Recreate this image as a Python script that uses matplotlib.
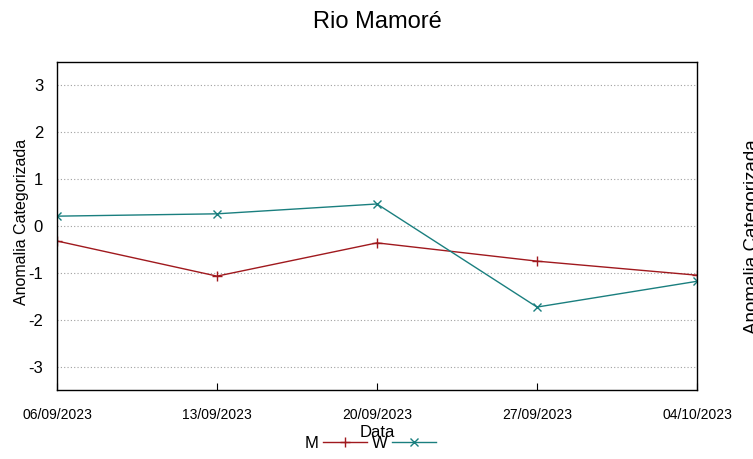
import numpy as np
import pandas as pd
import matplotlib
matplotlib.use('Agg')
import matplotlib.pyplot as plt

plt.rcParams['font.family'] = ['Liberation Sans', 'DejaVu Sans']
plt.rcParams['axes.unicode_minus'] = False

# dados
datas = ['2023-09-06', '2023-09-13', '2023-09-20', '2023-09-27', '2023-10-04']
serie_m = [-0.32, -1.07, -0.36, -0.75, -1.05]
serie_w = [0.21, 0.26, 0.47, -1.73, -1.18]
rotulos_x = ['06/09/2023', '13/09/2023', '20/09/2023', '27/09/2023', '04/10/2023']
ticks_y = [-3, -2, -1, 0, 1, 2, 3]

x = pd.to_datetime(datas)

fig = plt.figure(figsize=(7.53, 4.59), dpi=100)
ax = fig.add_axes([57 / 753, 1 - 390 / 459, 640 / 753, 328 / 459])

ax.plot(x, serie_m, color='#a0191e', lw=1.0, marker='+', ms=7, mew=1.0, label='M')
ax.plot(x, serie_w, color='#1a7f7f', lw=1.0, marker='x', ms=6, mew=1.0, label='W')

ax.set_xlim(x[0], x[-1])
ax.set_ylim(-3.5, 3.5)
ax.set_yticks(ticks_y)
ax.set_xticks(x)
ax.set_xticklabels(rotulos_x)
ax.yaxis.grid(True, color='#a0a0a0', linestyle=(0, (1, 2)), lw=0.8)
ax.set_axisbelow(True)

ax.tick_params(axis='x', direction='in', length=5, pad=13, labelsize=10)
ax.tick_params(axis='y', direction='in', length=0, pad=10, labelsize=12)
for s in ax.spines.values():
    s.set_linewidth(1.0)
    s.set_color('black')

ax.set_xlabel('Data', fontsize=12, labelpad=2)
fig.text(22 / 753, 1 - 222 / 459, 'Anomalia Categorizada', rotation=90,
         ha='center', va='center', fontsize=11.5)
fig.text(377 / 753, 1 - 22 / 459, 'Rio Mamoré', ha='center', va='center', fontsize=17)

# rótulo do gráfico vizinho (cortado)
fig.text(744 / 753, 1 - 237 / 459, 'Anomalia Categorizada', rotation=90,
         ha='left', va='center', fontsize=13.5)

leg = fig.legend(loc='center', bbox_to_anchor=(370 / 753, 1 - 443 / 459), ncol=2,
                 frameon=False, markerfirst=False, fontsize=12, handlelength=2.6,
                 handletextpad=0.3, columnspacing=0.3, borderpad=0)

fig.savefig('out.png', dpi=100)
